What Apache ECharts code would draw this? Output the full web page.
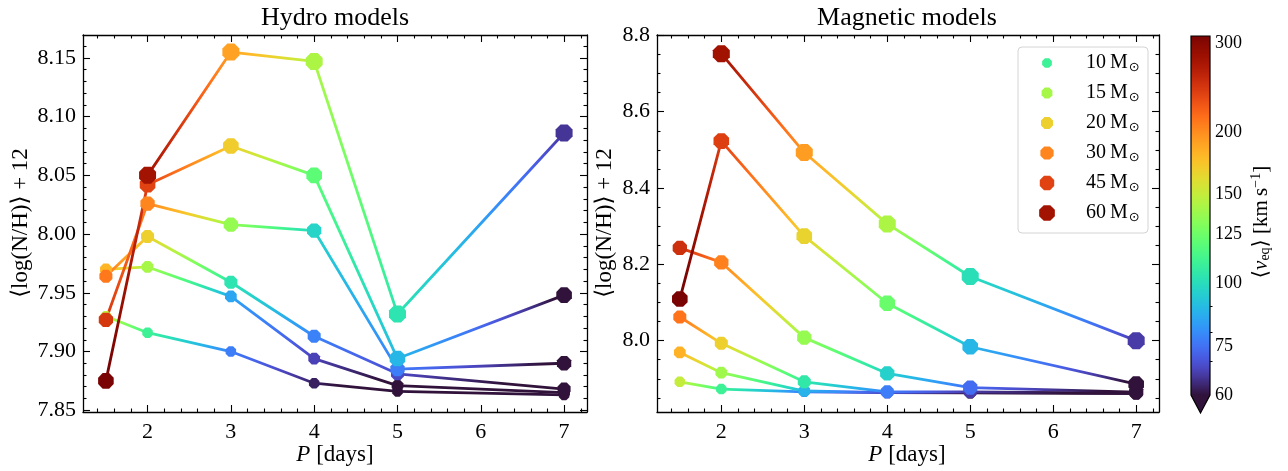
<!DOCTYPE html>
<html>
<head>
<meta charset="utf-8">
<script src="https://cdn.jsdelivr.net/npm/echarts@6/dist/echarts.min.js"></script>
<style>
  html, body { margin: 0; padding: 0; background: #ffffff; }
  #chart { width: 1288px; height: 471px; }
</style>
</head>
<body>
<div id="chart"></div>
<script>
// Rotation periods (days) shared by every model track
const periods = [1.5, 2, 3, 4, 5, 7];
const masses = [10, 15, 20, 30, 45, 60];

// Hydro models: <log(N/H)> + 12 for each mass (null = no model at that period)
const hydroNH10 = [7.930, 7.916, 7.900, 7.873, 7.866, 7.863];
const hydroNH15 = [7.970, 7.972, 7.947, 7.894, 7.871, 7.865];
const hydroNH20 = [7.964, 7.998, 7.959, 7.913, 7.881, 7.868];
const hydroNH30 = [7.927, 8.026, 8.008, 8.003, 7.885, 7.890];
const hydroNH45 = [7.875, 8.042, 8.075, 8.050, 7.894, 7.948];
const hydroNH60 = [null, 8.050, 8.155, 8.147, 7.932, 8.086];

// Hydro models: mean equatorial velocity (km/s)
const hydroV10 = [149, 110, 77, 62, 55, 50];
const hydroV15 = [180, 141, 85, 67, 58, 52];
const hydroV20 = [209, 167, 103, 78, 68, 55];
const hydroV30 = [245, 203, 136, 97, 77, 57];
const hydroV45 = [320, 238, 169, 120, 89, 58];
const hydroV60 = [null, 278, 190, 143, 103, 65];

// Magnetic models: <log(N/H)> + 12
const magNH10 = [7.892, 7.873, 7.866, 7.864, 7.863, 7.862];
const magNH15 = [7.969, 7.916, 7.868, 7.864, 7.864, 7.862];
const magNH20 = [8.062, 7.993, 7.892, 7.866, 7.866, 7.862];
const magNH30 = [8.243, 8.205, 8.008, 7.914, 7.877, 7.865];
const magNH45 = [8.109, 8.523, 8.274, 8.098, 7.984, 7.886];
const magNH60 = [null, 8.752, 8.493, 8.306, 8.168, 8.000];

// Magnetic models: mean equatorial velocity (km/s)
const magV10 = [150, 110, 76, 62, 56, 50];
const magV15 = [182, 139, 88, 68, 60, 52];
const magV20 = [212, 167, 105, 77, 66, 55];
const magV30 = [250, 205, 136, 96, 74, 56];
const magV45 = [320, 240, 165, 124, 89, 58];
const magV60 = [null, 280, 192, 143, 101, 66];

// Tick labels
const xTicks = [2, 3, 4, 5, 6, 7];
const hydroYTicks = [7.85, 7.90, 7.95, 8.00, 8.05, 8.10, 8.15];
const magYTicks = [8.0, 8.2, 8.4, 8.6, 8.8];
const cbarTicks = [60, 75, 100, 125, 150, 200, 300];
const cbarMinorTicks = [70, 80, 90];
const cbarMin = 60, cbarMax = 310;

const FONT = "'Liberation Serif', 'DejaVu Serif', serif";
const markerSizes = [10.5, 11.7, 13, 14.3, 15.6, 17];
const OCT = 'path://M0.383,-0.924L0.924,-0.383L0.924,0.383L0.383,0.924L-0.383,0.924L-0.924,0.383L-0.924,-0.383L-0.383,-0.924Z';

// Turbo colormap (polynomial fit, ends pinned to the table endpoints)
const TR = [0.13572138, 4.61539260, -42.66032258, 132.13108234, -152.94239396, 59.28637943];
const TG = [0.09140261, 2.19418839, 4.84296658, -14.18503333, 4.27729857, 2.82956604];
const TB = [0.10667330, 12.64194608, -60.58204836, 110.36276771, -89.90310912, 27.34824973];
function poly(c, t) { return c[0] + t * (c[1] + t * (c[2] + t * (c[3] + t * (c[4] + t * c[5])))); }
function turboPoly(t) { return [poly(TR, t), poly(TG, t), poly(TB, t)]; }
function turbo(t) {
  t = Math.min(1, Math.max(0, t));
  let c;
  if (t < 0.06) {
    const a = [0.18995, 0.07176, 0.23217], e = turboPoly(0.06), f = t / 0.06;
    c = a.map((x, k) => x + (e[k] - x) * f);
  } else if (t > 0.94) {
    const a = [0.47960, 0.01583, 0.01055], e = turboPoly(0.94), f = (1 - t) / 0.06;
    c = a.map((x, k) => x + (e[k] - x) * f);
  } else {
    c = turboPoly(t);
  }
  return 'rgb(' + c.map(x => Math.round(255 * Math.min(1, Math.max(0, x)))).join(',') + ')';
}
// logarithmic normalisation of the velocity onto [0, 1]
function norm(v) { return Math.log(v / cbarMin) / Math.log(cbarMax / cbarMin); }

// ---- axes -------------------------------------------------------------
function range(a, b, step) {
  const out = [];
  for (let v = a; v <= b + 1e-9; v += step) out.push(Math.round(v * 1000) / 1000);
  return out;
}
function minorOf(all, major) { return all.filter(v => !major.some(m => Math.abs(m - v) < 1e-6)); }

function axisSet(dim, gridIndex, min, max, major, minor, fmt) {
  const posA = dim === 'x' ? 'bottom' : 'left';
  const posB = dim === 'x' ? 'top' : 'right';
  const base = { type: 'value', gridIndex, min, max, splitLine: { show: false }, silent: true };
  const line = { show: true, onZero: false, lineStyle: { color: '#000', width: 1.3 } };
  const noLine = { show: false, onZero: false };
  const tick = (vals, len) => ({ show: true, inside: true, length: len, customValues: vals, lineStyle: { color: '#000', width: 1.1 } });
  return [
    Object.assign({}, base, { position: posA, axisLine: line, axisTick: tick(major, 7),
      axisLabel: { show: true, customValues: major, formatter: fmt, fontFamily: FONT, fontSize: 22, color: '#000', margin: dim === 'x' ? 9 : 7 } }),
    Object.assign({}, base, { position: posA, axisLine: noLine, axisTick: tick(minor, 3.5), axisLabel: { show: false } }),
    Object.assign({}, base, { position: posB, axisLine: line, axisTick: tick(major, 7), axisLabel: { show: false } }),
    Object.assign({}, base, { position: posB, axisLine: noLine, axisTick: tick(minor, 3.5), axisLabel: { show: false } })
  ];
}

const xMin = 1.225, xMax = 7.275;
const xMinor = minorOf(range(1.4, 7.2, 0.2), xTicks);
const hydroYRange = [7.8485, 8.1695];
const magYRange = [7.813, 8.801];
const hydroYMinor = minorOf(range(7.85, 8.16, 0.01), hydroYTicks);
const magYMinor = minorOf(range(7.85, 8.75, 0.05), magYTicks);

const xAxes = [].concat(
  axisSet('x', 0, xMin, xMax, xTicks, xMinor, v => String(v)),
  axisSet('x', 1, xMin, xMax, xTicks, xMinor, v => String(v)),
  [{ type: 'value', gridIndex: 2, min: 0, max: 1, show: false }]
);
const log10 = v => Math.log(v) / Math.LN10;
const yAxes = [].concat(
  axisSet('y', 0, hydroYRange[0], hydroYRange[1], hydroYTicks, hydroYMinor, v => v.toFixed(2)),
  axisSet('y', 1, magYRange[0], magYRange[1], magYTicks, magYMinor, v => v.toFixed(1)),
  [
    { type: 'value', gridIndex: 2, position: 'right', min: log10(cbarMin), max: log10(cbarMax),
      splitLine: { show: false }, axisLine: { show: false },
      axisTick: { show: true, inside: false, length: 4, customValues: cbarTicks.map(log10), lineStyle: { color: '#000', width: 1.1 } },
      axisLabel: { show: true, customValues: cbarTicks.map(log10), formatter: v => String(Math.round(Math.pow(10, v))),
        fontFamily: FONT, fontSize: 18, color: '#000', margin: 5 } },
    { type: 'value', gridIndex: 2, position: 'right', min: log10(cbarMin), max: log10(cbarMax),
      splitLine: { show: false }, axisLine: { show: false },
      axisTick: { show: true, inside: false, length: 2.5, customValues: cbarMinorTicks.map(log10), lineStyle: { color: '#000', width: 1 } },
      axisLabel: { show: false } }
  ]
);

// ---- model tracks -----------------------------------------------------
function renderSegment(params, api) {
  const p0 = api.coord([api.value(0), api.value(1)]);
  const p1 = api.coord([api.value(2), api.value(3)]);
  const v0 = api.value(4), v1 = api.value(5);
  const stops = [];
  const n = 16;
  for (let i = 0; i <= n; i++) {
    const f = i / n;
    stops.push({ offset: f, color: turbo(norm(v0 + (v1 - v0) * f)) });
  }
  return {
    type: 'line',
    shape: { x1: p0[0], y1: p0[1], x2: p1[0], y2: p1[1] },
    style: {
      stroke: new echarts.graphic.LinearGradient(p0[0], p0[1], p1[0], p1[1], stops, true),
      lineWidth: 2.8, lineCap: 'round'
    }
  };
}

function trackSeries(xi, yi, nh, vel, size) {
  const segs = [], pts = [];
  for (let k = 0; k < periods.length; k++) {
    if (nh[k] != null) pts.push([periods[k], nh[k], vel[k]]);
    if (k < periods.length - 1 && nh[k] != null && nh[k + 1] != null) {
      segs.push([periods[k], nh[k], periods[k + 1], nh[k + 1], vel[k], vel[k + 1]]);
    }
  }
  return [
    { type: 'custom', xAxisIndex: xi, yAxisIndex: yi, data: segs, encode: { x: [0, 2], y: [1, 3] },
      renderItem: renderSegment, silent: true },
    { type: 'scatter', xAxisIndex: xi, yAxisIndex: yi, data: pts, symbol: OCT, symbolSize: size, silent: true,
      itemStyle: { color: p => turbo(norm(p.value[2])), opacity: 1 } }
  ];
}

const hydroNH = [hydroNH10, hydroNH15, hydroNH20, hydroNH30, hydroNH45, hydroNH60];
const hydroV = [hydroV10, hydroV15, hydroV20, hydroV30, hydroV45, hydroV60];
const magNH = [magNH10, magNH15, magNH20, magNH30, magNH45, magNH60];
const magV = [magV10, magV15, magV20, magV30, magV45, magV60];

let series = [];
masses.forEach((m, i) => { series = series.concat(trackSeries(0, 0, hydroNH[i], hydroV[i], markerSizes[i])); });
masses.forEach((m, i) => { series = series.concat(trackSeries(4, 4, magNH[i], magV[i], markerSizes[i])); });

// ---- colour bar -------------------------------------------------------
series.push({
  type: 'custom', xAxisIndex: 8, yAxisIndex: 8, silent: true,
  data: [[0, log10(cbarMin), 1, log10(cbarMax)]],
  encode: { x: [0, 2], y: [1, 3] },
  renderItem: function (params, api) {
    const a = api.coord([api.value(0), api.value(1)]);
    const b = api.coord([api.value(2), api.value(3)]);
    const w = b[0] - a[0];
    const tip = [(a[0] + b[0]) / 2, a[1] + w * 0.95];
    const stops = [];
    for (let i = 0; i <= 40; i++) stops.push({ offset: i / 40, color: turbo(i / 40) });
    return {
      type: 'group',
      children: [
        { type: 'rect', shape: { x: a[0], y: b[1], width: w, height: a[1] - b[1] },
          style: { fill: new echarts.graphic.LinearGradient(0, 1, 0, 0, stops) } },
        { type: 'polygon', shape: { points: [[a[0], a[1]], [b[0], a[1]], tip] }, style: { fill: turbo(0) } },
        { type: 'polygon', shape: { points: [[a[0], b[1]], [b[0], b[1]], [b[0], a[1]], tip, [a[0], a[1]]] },
          style: { fill: 'none', stroke: '#000', lineWidth: 1.2 } }
      ]
    };
  }
});

// ---- legend -----------------------------------------------------------
function octPoints(cx, cy, r) {
  const pts = [];
  for (let k = 0; k < 8; k++) {
    const a = (22.5 + 45 * k) * Math.PI / 180;
    pts.push([cx + r * Math.cos(a), cy + r * Math.sin(a)]);
  }
  return pts;
}
const legendEls = [{
  type: 'rect', z: 100, shape: { x: 1018, y: 47, width: 130, height: 186, r: 4 },
  style: { fill: 'rgba(255,255,255,0.85)', stroke: '#d4d4d4', lineWidth: 1 }
}];
masses.forEach((m, i) => {
  const cy = 63 + 30 * i;
  legendEls.push({ type: 'polygon', z: 101, shape: { points: octPoints(1047, cy, markerSizes[i] / 2) },
    style: { fill: turbo(norm(hydroV[i][1])) } });
  legendEls.push({ type: 'text', z: 101, x: 1086, y: cy,
    style: { text: m + '\u2009M{o|\u2299}', font: '20px ' + FONT, fill: '#000', align: 'left', verticalAlign: 'middle',
      rich: { o: { fontSize: 13, fontFamily: "'DejaVu Sans', sans-serif", padding: [9, 0, 0, 1], fill: '#000' } } } });
});

// ---- titles and axis names -------------------------------------------
function label(x, y, text, size, rotation, rich) {
  return { type: 'text', x, y, rotation: rotation || 0, z: 100,
    style: { text, font: size + 'px ' + FONT, fill: '#000', align: 'center', verticalAlign: 'middle', rich: rich || {} } };
}
const italic = { i: { fontStyle: 'italic', fontFamily: FONT, fontSize: 23 } };
const textEls = [
  label(335, 18, 'Hydro models', 26),
  label(907, 18, 'Magnetic models', 26),
  label(335, 455, '{i|P} [days]', 23, 0, italic),
  label(907, 455, '{i|P} [days]', 23, 0, italic),
  label(21, 223, '\u27E8log(N/H)\u27E9 + 12', 23, Math.PI / 2),
  label(605, 223, '\u27E8log(N/H)\u27E9 + 12', 23, Math.PI / 2),
  label(1261, 222, '\u27E8{i|v}{s|eq}\u27E9 [km\u2009s{p|\u22121}]', 21, Math.PI / 2, {
    i: { fontStyle: 'italic', fontFamily: FONT, fontSize: 21 },
    s: { fontFamily: FONT, fontSize: 14, padding: [9, 0, 0, 0] },
    p: { fontFamily: FONT, fontSize: 14, padding: [0, 0, 10, 0] }
  })
];

const chart = echarts.init(document.getElementById('chart'), null, { renderer: 'canvas' });
chart.setOption({
  animation: false,
  backgroundColor: '#ffffff',
  grid: [
    { left: 83, top: 35, width: 504, height: 377 },
    { left: 657, top: 35, width: 502, height: 377 },
    { left: 1191, top: 36, width: 19, height: 359 }
  ],
  xAxis: xAxes,
  yAxis: yAxes,
  series: series,
  graphic: { elements: legendEls.concat(textEls) }
});
</script>
</body>
</html>
